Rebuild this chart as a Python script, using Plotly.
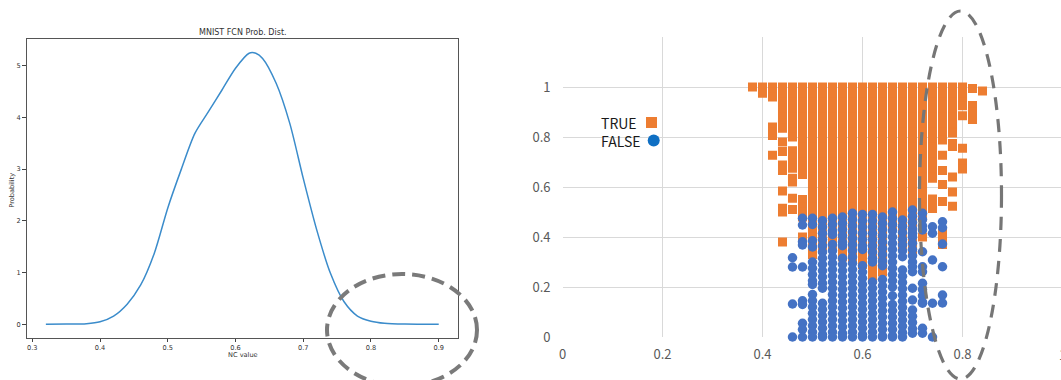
import plotly.graph_objects as go

W, H = 1061, 380

# ---------------- Left panel data: NC value vs probability density ----------------
NC_X = [0.32, 0.35, 0.38, 0.40, 0.42, 0.44, 0.46, 0.48, 0.50, 0.52, 0.54, 0.56, 0.58,
        0.60, 0.62, 0.63, 0.64, 0.66, 0.68, 0.70, 0.72, 0.74, 0.76, 0.78, 0.80, 0.82,
        0.85, 0.90]
PROB_Y = [0.0, 0.004, 0.013, 0.05, 0.16, 0.39, 0.76, 1.37, 2.25, 3.0, 3.69, 4.11, 4.53,
          4.95, 5.24, 5.24, 5.14, 4.66, 3.89, 2.82, 1.82, 0.99, 0.44, 0.16, 0.06, 0.02,
          0.004, 0.0]
LEFT_XTICKS = [0.3, 0.4, 0.5, 0.6, 0.7, 0.8, 0.9]
LEFT_YTICKS = [0, 1, 2, 3, 4, 5]

# ---------------- Right panel data: scatter TRUE / FALSE ----------------
TRUE_X = [0.38, 0.40, 0.42, 0.44, 0.46, 0.48, 0.50, 0.52, 0.54, 0.56, 0.58, 0.60,
          0.62, 0.64, 0.66, 0.68, 0.70, 0.72, 0.74, 0.76, 0.78, 0.80, 0.82, 0.84]
TOP = [1.0, 0.97, 0.94, 0.91, 0.88, 0.85, 0.82, 0.79, 0.76, 0.73, 0.70, 0.67, 0.64,
       0.61, 0.58, 0.55, 0.52, 0.49, 0.46, 0.43, 0.40, 0.37]
TRUE_Y = [
    [1.0],
    [1.0, 0.975],
    [1.0, 0.98, 0.96, 0.84, 0.82, 0.806, 0.727],
    [1.0, 0.97, 0.94, 0.91, 0.88, 0.855, 0.835, 0.78, 0.742, 0.688, 0.666, 0.584, 0.515, 0.50, 0.38],
    [1.0, 0.97, 0.94, 0.91, 0.88, 0.85, 0.82, 0.80, 0.745, 0.72, 0.695, 0.675, 0.635, 0.62, 0.555, 0.51],
    [1.0, 0.97, 0.94, 0.91, 0.88, 0.85, 0.82, 0.79, 0.76, 0.73, 0.70, 0.67, 0.65, 0.55, 0.52, 0.50, 0.48, 0.40],
    TOP + [0.34, 0.33],
    TOP + [0.35],
    TOP + [0.36],
    TOP + [0.34, 0.32],
    TOP + [0.34, 0.31],
    TOP + [0.34, 0.31, 0.29],
    TOP + [0.34, 0.31, 0.28, 0.25, 0.23],
    TOP + [0.34, 0.31, 0.28, 0.26],
    [1.0, 0.97, 0.94, 0.91, 0.88, 0.85, 0.82, 0.79, 0.76, 0.73, 0.70, 0.67, 0.64, 0.61, 0.58, 0.55, 0.52, 0.49, 0.46, 0.44],
    TOP + [0.36],
    TOP + [0.34],
    [1.0, 0.97, 0.94, 0.91, 0.88, 0.85, 0.82, 0.79, 0.76, 0.73, 0.70, 0.67, 0.64, 0.61, 0.58, 0.55, 0.52, 0.49, 0.48, 0.40],
    [1.0, 0.97, 0.94, 0.91, 0.88, 0.85, 0.82, 0.79, 0.76, 0.73, 0.70, 0.67, 0.64, 0.635, 0.552, 0.53, 0.514],
    [1.0, 0.97, 0.94, 0.91, 0.88, 0.85, 0.82, 0.79, 0.788, 0.727, 0.666, 0.61, 0.542, 0.42, 0.395, 0.37],
    [1.0, 0.97, 0.94, 0.91, 0.88, 0.85, 0.82, 0.816, 0.774, 0.762, 0.64, 0.58, 0.523],
    [1.0, 0.97, 0.94, 0.925, 0.885, 0.755, 0.696, 0.672],
    [0.994, 0.926, 0.90, 0.87],
    [0.984],
]

FALSE_X = [0.46, 0.48, 0.50, 0.52, 0.54, 0.56, 0.58, 0.60, 0.62, 0.64, 0.66, 0.68,
           0.70, 0.72, 0.74, 0.76]
FALSE_Y = [
    [0.317, 0.28, 0.132, 0.0],
    [0.475, 0.448, 0.381, 0.368, 0.28, 0.145, 0.13, 0.055, 0.03, 0.0],
    [0.475, 0.45, 0.385, 0.36, 0.30, 0.275, 0.25, 0.225, 0.21, 0.17, 0.145, 0.12, 0.095, 0.07, 0.045, 0.02, 0.0],
    [0.465, 0.44, 0.415, 0.39, 0.365, 0.34, 0.315, 0.29, 0.265, 0.24, 0.215, 0.195, 0.135, 0.11, 0.085, 0.06, 0.035, 0.01, 0.0],
    [0.475, 0.45, 0.425, 0.41, 0.37, 0.345, 0.32, 0.295, 0.27, 0.245, 0.22, 0.195, 0.17, 0.145, 0.12, 0.095, 0.07, 0.045, 0.02, 0.0],
    [0.48, 0.455, 0.43, 0.405, 0.38, 0.365, 0.315, 0.29, 0.265, 0.24, 0.215, 0.19, 0.165, 0.14, 0.115, 0.09, 0.065, 0.04, 0.015, 0.0],
    [0.495, 0.47, 0.445, 0.42, 0.395, 0.37, 0.345, 0.32, 0.295, 0.27, 0.245, 0.22, 0.195, 0.17, 0.145, 0.12, 0.095, 0.07, 0.045, 0.02, 0.0],
    [0.49, 0.465, 0.44, 0.415, 0.39, 0.365, 0.35, 0.285, 0.26, 0.235, 0.21, 0.185, 0.16, 0.135, 0.11, 0.085, 0.06, 0.035, 0.01, 0.0],
    [0.49, 0.465, 0.44, 0.415, 0.39, 0.365, 0.34, 0.315, 0.30, 0.22, 0.195, 0.17, 0.145, 0.12, 0.095, 0.07, 0.045, 0.02, 0.0],
    [0.48, 0.455, 0.43, 0.405, 0.38, 0.355, 0.33, 0.305, 0.285, 0.23, 0.205, 0.18, 0.155, 0.13, 0.105, 0.08, 0.055, 0.03, 0.005, 0.0],
    [0.50, 0.475, 0.45, 0.425, 0.40, 0.375, 0.35, 0.325, 0.30, 0.275, 0.25, 0.225, 0.20, 0.165, 0.13, 0.105, 0.08, 0.055, 0.03, 0.005, 0.0],
    [0.468, 0.443, 0.418, 0.39, 0.368, 0.345, 0.321, 0.268, 0.243, 0.218, 0.193, 0.168, 0.143, 0.118, 0.093, 0.068, 0.043, 0.018, 0.0],
    [0.508, 0.483, 0.458, 0.433, 0.415, 0.40, 0.375, 0.35, 0.325, 0.30, 0.281, 0.261, 0.195, 0.148, 0.108, 0.083, 0.058, 0.033, 0.015],
    [0.495, 0.47, 0.445, 0.428, 0.341, 0.281, 0.261, 0.215, 0.19, 0.165, 0.14, 0.135, 0.035, 0.015],
    [0.441, 0.415, 0.308, 0.135, 0.0],
    [0.461, 0.437, 0.372, 0.281, 0.168, 0.136],
]
RIGHT_XTICKS = [0, 0.2, 0.4, 0.6, 0.8]
RIGHT_XLABELS = ["0", "0.2", "0.4", "0.6", "0.8"]
RIGHT_YTICKS = [0, 0.2, 0.4, 0.6, 0.8, 1.0, 1.2]
RIGHT_YLABELS = ["0", "0.2", "0.4", "0.6", "0.8", "1", ""]
LEGEND_LABELS = ["TRUE", "FALSE"]

ORANGE = "#ED7D31"
BLUE = "#4472C4"

def px(x):
    return x / W

def py(y):
    return 1 - y / H

tx, ty = [], []
for x, ys in zip(TRUE_X, TRUE_Y):
    tx += [x] * len(ys)
    ty += ys
fx, fy = [], []
for x, ys in zip(FALSE_X, FALSE_Y):
    fx += [x] * len(ys)
    fy += ys

fig = go.Figure()

fig.add_trace(go.Scatter(
    x=NC_X, y=PROB_Y, mode="lines", line=dict(color="#3b8ccb", width=1.5, shape="spline", smoothing=0.8),
    xaxis="x", yaxis="y", showlegend=False, hoverinfo="skip"))

fig.add_trace(go.Scatter(
    x=tx, y=ty, mode="markers", name="TRUE",
    marker=dict(symbol="square", size=9, color=ORANGE, line=dict(width=0)),
    xaxis="x2", yaxis="y2", showlegend=False, cliponaxis=False))
fig.add_trace(go.Scatter(
    x=fx, y=fy, mode="markers", name="FALSE",
    marker=dict(symbol="circle", size=9.5, color=BLUE, line=dict(width=0)),
    xaxis="x2", yaxis="y2", showlegend=False, cliponaxis=False))

left_font = dict(family="DejaVu Sans", size=6.6, color="#333333")
right_font = dict(family="Noto Sans CJK JP", size=13, color="#595959")

fig.update_layout(
    width=W, height=H, margin=dict(l=0, r=0, t=0, b=0, autoexpand=False),
    paper_bgcolor="white", plot_bgcolor="white",
    xaxis=dict(domain=[px(26.7), px(458.3)], range=[0.2917, 0.9289],
               tickvals=LEFT_XTICKS, ticktext=[f"{v:.1f}" for v in LEFT_XTICKS],
               showgrid=False, zeroline=False, showline=True, mirror=True,
               linecolor="#555555", linewidth=1.2, ticks="outside", ticklen=3,
               tickwidth=0.8, tickcolor="#444444", tickfont=left_font, automargin=False),
    yaxis=dict(domain=[py(337.7), py(39.3)], range=[-0.259, 5.51],
               tickvals=LEFT_YTICKS, ticktext=[str(v) for v in LEFT_YTICKS],
               showgrid=False, zeroline=False, showline=True, mirror=True,
               linecolor="#555555", linewidth=1.2, ticks="outside", ticklen=3.5,
               tickwidth=0.8, tickcolor="#444444", tickfont=left_font, automargin=False),
    xaxis2=dict(domain=[px(562.5), 1.0], range=[0, (W - 562.5) / 500.0], anchor="y2",
                tickvals=RIGHT_XTICKS, ticktext=RIGHT_XLABELS,
                showgrid=True, gridcolor="#d9d9d9", gridwidth=1, zeroline=False,
                showline=False, ticks="", ticklabelstandoff=8, tickfont=right_font,
                automargin=False),
    yaxis2=dict(domain=[py(337), py(37)], range=[0, 1.2], anchor="x2",
                tickvals=RIGHT_YTICKS, ticktext=RIGHT_YLABELS,
                showgrid=True, gridcolor="#d9d9d9", gridwidth=1, zeroline=False,
                showline=False, ticks="", ticklabelstandoff=11, tickfont=right_font,
                automargin=False),
)

annotations = [
    dict(text="MNIST FCN Prob. Dist.", x=px(242.5), y=py(32.3), xref="paper", yref="paper",
         showarrow=False, xanchor="center", yanchor="middle",
         font=dict(family="DejaVu Sans", size=8, color="#333333")),
    dict(text="NC value", x=px(242.5), y=py(355), xref="paper", yref="paper",
         showarrow=False, xanchor="center", yanchor="middle", font=left_font),
    dict(text="Probability", x=px(11.7), y=py(190), xref="paper", yref="paper",
         showarrow=False, xanchor="center", yanchor="middle", textangle=-90, font=left_font),
    dict(text="1", x=px(1062.5), y=py(354), xref="paper", yref="paper",
         showarrow=False, xanchor="center", yanchor="middle", font=right_font),
    dict(text="<br>".join(LEGEND_LABELS), x=px(599), y=py(131.5), xref="paper", yref="paper",
         showarrow=False, xanchor="left", yanchor="middle", align="left",
         font=dict(family="Noto Sans CJK JP", size=14, color="#1a1a1a")),
]

shapes = [
    dict(type="rect", xref="paper", yref="paper", x0=px(646), x1=px(657), y0=py(128), y1=py(117),
         fillcolor=ORANGE, line=dict(width=0)),
    dict(type="circle", xref="paper", yref="paper", x0=px(647.7), x1=px(659.7), y0=py(146.5), y1=py(134.5),
         fillcolor="#0f6fc3", line=dict(width=0)),
    dict(type="circle", xref="paper", yref="paper", x0=px(327), x1=px(477), y0=py(386), y1=py(274),
         line=dict(color="#7a7a7a", width=4, dash="13px,7px"), fillcolor="rgba(0,0,0,0)"),
    dict(type="circle", xref="paper", yref="paper", x0=px(919.5), x1=px(1001.5), y0=py(379), y1=py(11),
         line=dict(color="#767676", width=3.2, dash="13px,9px"), fillcolor="rgba(0,0,0,0)"),
]

fig.update_layout(annotations=annotations, shapes=shapes)

fig.write_html(
    "out.html",
    config={"responsive": False, "displayModeBar": False},
    post_script="document.body.style.margin='0';document.body.style.padding='0';"
                "document.body.style.overflow='hidden';"
                "document.documentElement.style.overflow='hidden';",
)
